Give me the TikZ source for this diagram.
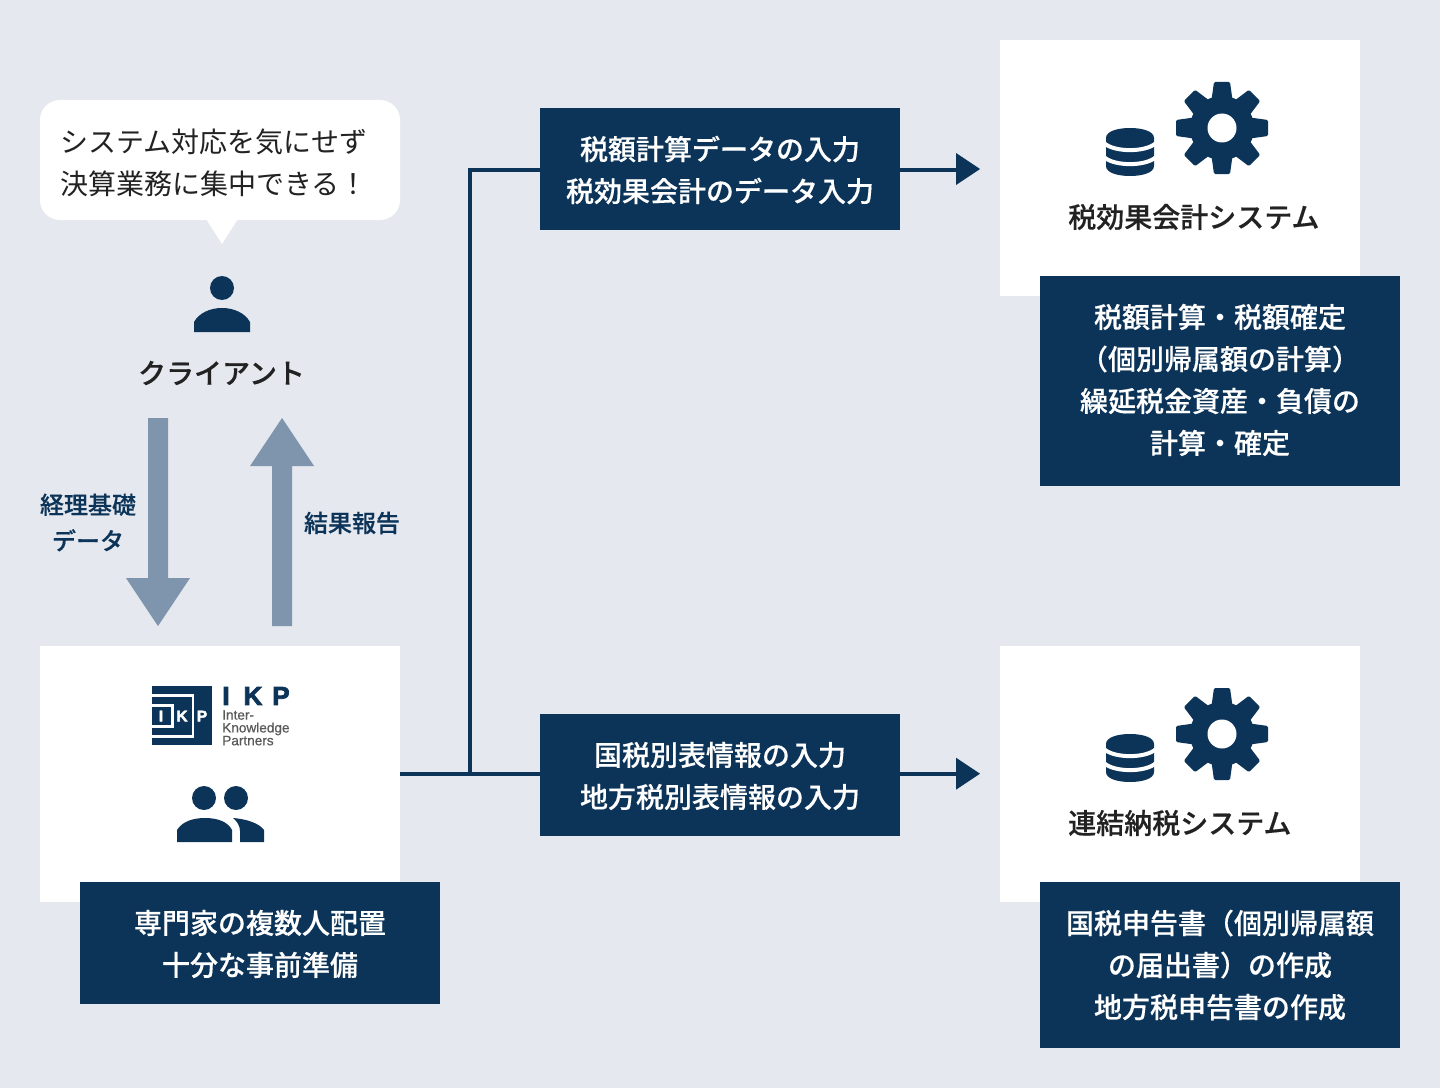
\documentclass[tikz,border=0pt]{standalone}
\usepackage{fontspec}
\setmainfont{Noto Sans CJK JP}
\newfontfamily\jpm{Noto Sans CJK JP Medium}[FakeBold=0.35]
\newfontfamily\lat{Liberation Sans}
\newfontfamily\latb{Liberation Sans Bold}[FakeBold=3]
\newfontfamily\latm{Liberation Sans}[FakeBold=0.5]
\definecolor{bgc}{HTML}{E5E8EE}
\definecolor{navy}{HTML}{0C3358}
\definecolor{steel}{HTML}{7F94AD}
\definecolor{ink}{HTML}{222222}
\tikzset{
  x=0.75pt,y=-0.75pt,
  navybox/.style={fill=navy,inner sep=0pt,minimum width=270pt},
  navytext/.style={text=white,inner sep=0pt,align=center,font=\jpm\fontsize{21}{31.5}\selectfont},
  whitebox/.style={fill=white,inner sep=0pt,minimum width=270pt,minimum height=192pt},
  systitle/.style={anchor=west,inner sep=0pt,text=ink,font=\jpm\fontsize{21}{31.5}\selectfont},
  flowline/.style={draw=navy,line width=3pt},
  smalllabel/.style={inner sep=0pt,align=center,text=navy,font=\jpm\fontsize{18}{27}\selectfont},
  logosmall/.style={inner sep=0pt,text=white,font=\latb\fontsize{11.5}{11.5}\selectfont},
  logobig/.style={inner sep=0pt,text=navy,font=\latb\fontsize{19.5}{19.5}\selectfont},
}
\newcommand{\gearicon}[2]{%
  \begin{scope}[shift={(#1,#2)}]
    \fill[navy] (0,0) circle (32);
    \foreach \a in {0,45,...,315}{
      \fill[navy,rotate=\a,rounded corners=1pt] (-10.5,-28) -- (-8,-46) -- (8,-46) -- (10.5,-28) -- cycle;
    }
    \fill[white] (0,0) circle (14.5);
  \end{scope}}
\newcommand{\dbicon}[2]{%
  \begin{scope}[shift={(#1,#2)}]
    \fill[navy] (-24,-28) .. controls (-24,-34.5) and (-13,-38) .. (0,-38) .. controls (13,-38) and (24,-34.5) .. (24,-28)
      -- (24,0) .. controls (24,6.5) and (13,10) .. (0,10) .. controls (-13,10) and (-24,6.5) .. (-24,0) -- cycle;
    \draw[white,line width=3pt] (-26,-23) .. controls (-16,-13.5) and (16,-13.5) .. (26,-23);
    \draw[white,line width=3pt] (-26,-9) .. controls (-16,0.5) and (16,0.5) .. (26,-9);
  \end{scope}}
\begin{document}
\begin{tikzpicture}
\useasboundingbox (0,0) rectangle (1440,1088);
\fill[bgc] (0,0) rectangle (1440,1088);

% speech bubble
\fill[white,rounded corners=15pt] (40,100) rectangle (400,220);
\fill[white] (206,219) -- (238,219) -- (222,244) -- cycle;
\node[inner sep=0pt,anchor=west,align=left,text=ink,font=\fontsize{21}{31.5}\selectfont] (bubble) at (60,163) {システム対応を気にせず\\決算業務に集中できる！};

% client
\fill[navy] (222,288) circle (12);
\fill[navy] (194,332) -- (194,322) .. controls (199,313) and (210,308) .. (222,308) .. controls (234,308) and (245,313) .. (250,322) -- (250,332) -- cycle;
\node[inner sep=0pt,text=ink,font=\jpm\fontsize{21}{31.5}\selectfont] (client) at (221.5,373) {クライアント};

% thick arrows
\fill[steel] (148,418) -- (168,418) -- (168,578) -- (190,578) -- (158,626) -- (126,578) -- (148,578) -- cycle;
\fill[steel] (272,626) -- (292,626) -- (292,466) -- (314,466) -- (282,418) -- (250,466) -- (272,466) -- cycle;
\node[smalllabel] (basis) at (88,522.5) {経理基礎\\データ};
\node[smalllabel] (result) at (352,523) {結果報告};

% white boxes
\node[whitebox] (ikp) at (220,774) {};
\node[whitebox] (sys1) at (1180,168) {};
\node[whitebox] (sys2) at (1180,774) {};

% IKP logo
\fill[navy] (152,686) rectangle (212,745);
\draw[white,line width=1.8pt] (152,695.5) -- (193,695.5) -- (193,736.5) -- (152,736.5);
\draw[white,line width=1.8pt] (152,705.5) -- (172.5,705.5) -- (172.5,726.5) -- (152,726.5);
\node[logosmall] (logoi) at (161,716) {I};
\node[logosmall] (logok) at (182,716) {K};
\node[logosmall] (logop) at (202,716) {P};
\node[logobig] (bigi) at (226,696) {I};
\node[logobig] (bigk) at (253,696) {K};
\node[logobig] (bigp) at (281,696) {P};
\node[inner sep=0pt,anchor=north west,align=left,text=black!65,font=\latm\fontsize{10.2}{9.6}\selectfont] (logotext) at (222,710) {Inter-\\Knowledge\\Partners};

% people
\fill[navy] (204,798) circle (12);
\fill[navy] (236,798) circle (12);
\fill[navy] (177,842) -- (177,830) .. controls (182,822) and (192,818) .. (205,818) .. controls (218,818) and (228,822) .. (232,830) -- (232,842) -- cycle;
\fill[navy] (233,818) .. controls (246,819) and (259,823) .. (264,830) -- (264,842) -- (240,842) -- (240,831) .. controls (240,826) and (237,821) .. (233,818) -- cycle;

% navy boxes
\node[navybox,minimum height=91.5pt] (expert) at (260,943) {};
\node[navytext] (experttext) at (260,944) {専門家の複数人配置\\十分な事前準備};
\node[navybox,minimum height=91.5pt] (input1) at (720,169) {};
\node[navytext] (input1text) at (720,170) {税額計算データの入力\\税効果会計のデータ入力};
\node[navybox,minimum height=91.5pt] (input2) at (720,775) {};
\node[navytext] (input2text) at (720,776) {国税別表情報の入力\\地方税別表情報の入力};
\node[navybox,minimum height=157.5pt] (calc1) at (1220,381) {};
\node[navytext] (calc1text) at (1220,380) {税額計算・税額確定\\（個別帰属額の計算）\\繰延税金資産・負債の\\計算・確定};
\node[navybox,minimum height=124.5pt] (calc2) at (1220,965) {};
\node[navytext] (calc2text) at (1220,965) {国税申告書（個別帰属額\\の届出書）の作成\\地方税申告書の作成};

% system contents
\gearicon{1222}{128}
\dbicon{1130}{166}
\node[systitle] (sys1title) at (1068,217) {税効果会計システム};
\gearicon{1222}{734}
\dbicon{1130}{772}
\node[systitle] (sys2title) at (1068,823) {連結納税システム};

% connectors
\coordinate (junction) at (470,773.7);
\coordinate (arr1) at (980,170);
\coordinate (arr2) at (980,773.7);
\draw[flowline] (ikp.east |- junction) -- (input2.west |- junction);
\draw[flowline] (junction) -- (junction |- arr1) -- (input1.west |- arr1);
\draw[flowline] (input1.east |- arr1) -- ([xshift=-15pt]arr1);
\draw[flowline] (input2.east |- arr2) -- ([xshift=-15pt]arr2);
\fill[navy] ([yshift=0.75pt]arr1) -- ([shift={(-18pt,-11.25pt)}]arr1) -- ([shift={(-18pt,12.75pt)}]arr1) -- cycle;
\fill[navy] (arr2) -- ([shift={(-18pt,-12pt)}]arr2) -- ([shift={(-18pt,12pt)}]arr2) -- cycle;
\end{tikzpicture}
\end{document}
